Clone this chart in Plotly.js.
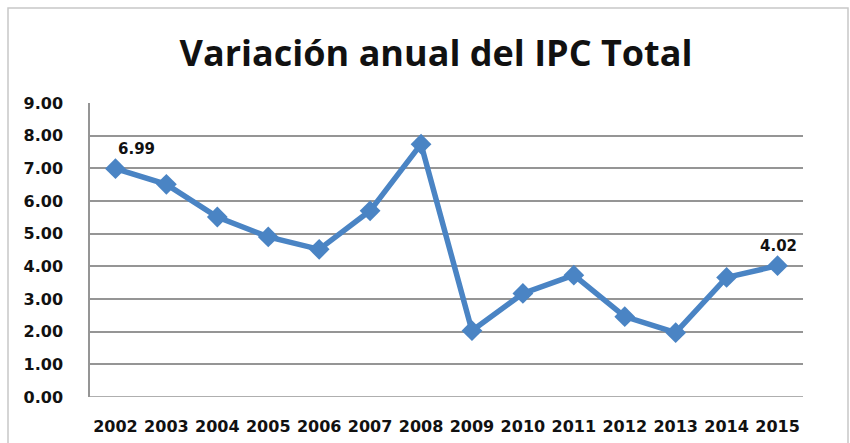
<!DOCTYPE html>
<html><head><meta charset="utf-8">
<script src="https://cdn.plot.ly/plotly-3.0.1.min.js"></script>
<style>html,body{margin:0;padding:0;background:#fff}#chart{width:850px;height:443px}</style>
</head><body><div id="chart"></div>
<script>
const years = ['2002','2003','2004','2005','2006','2007','2008','2009','2010','2011','2012','2013','2014','2015'];
const ipc = [6.99, 6.51, 5.51, 4.90, 4.52, 5.70, 7.74, 2.03, 3.17, 3.73, 2.46, 1.97, 3.66, 4.02];
const labelIdx = [0, 13];
const yTicks = [0,1,2,3,4,5,6,7,8,9];
const yTickText = yTicks.map(v => v.toFixed(2));

const L = 90, R = 47, T = 103, B = 46, W = 850, H = 443;
const pw = W - L - R, ph = H - T - B;
const tickFamily = 'DejaVu Sans, sans-serif';

const annotations = labelIdx.map((i, k) => ({
  x: i, y: ipc[i], xref: 'x', yref: 'y',
  text: '<b>' + ipc[i].toFixed(2) + '</b>', showarrow: false,
  xanchor: 'center', yanchor: 'bottom', yshift: 9, xshift: k === 0 ? 21 : 1,
  font: {family: tickFamily, size: 15, color: '#111'}
}));

const data = [{
  x: years.map((_, i) => i), y: ipc, type: 'scatter', mode: 'lines+markers',
  line: {color: '#4A84C4', width: 5.5},
  marker: {symbol: 'diamond', size: 16, color: '#4A84C4'},
  hoverinfo: 'x+y'
}];

const layout = {
  width: W, height: H,
  margin: {l: L, r: R, t: T, b: B},
  paper_bgcolor: '#fff', plot_bgcolor: '#fff',
  showlegend: false,
  title: {text: '<b>Variación anual del IPC Total</b>', x: 0.513, xanchor: 'center', y: 1 - 53/H, yanchor: 'middle',
    font: {family: 'Open Sans, sans-serif', size: 36, color: '#111'}},
  xaxis: {range: [-0.5, 13.5], tickvals: years.map((_, i) => i), ticktext: years, showgrid: false, zeroline: false,
    showline: false, ticks: '',
    tickfont: {family: tickFamily, size: 16, color: '#111', weight: 700}, ticklabelstandoff: 18},
  yaxis: {range: [0, 9], tickvals: yTicks, ticktext: yTickText, showgrid: true,
    gridcolor: '#959595', gridwidth: 1.7, zeroline: false, showline: true, linecolor: '#959595', linewidth: 1.7,
    ticks: '', ticklabelstandoff: 22,
    tickfont: {family: tickFamily, size: 16, color: '#111', weight: 700}},
  annotations: annotations,
  shapes: [
    {type: 'line', xref: 'paper', yref: 'y', x0: 0, x1: 1, y0: 0, y1: 0, line: {color: '#959595', width: 1.7}},
    {type: 'rect', xref: 'paper', yref: 'paper', x0: (8 - L) / pw, x1: (848 - L) / pw, y0: -(B + 5) / ph, y1: (T - 8) / ph + 1,
      line: {color: '#c8c8c8', width: 1.5}, fillcolor: 'rgba(0,0,0,0)', layer: 'below'}
  ]
};
Plotly.newPlot('chart', data, layout, {displayModeBar: false, staticPlot: true});
</script></body></html>
